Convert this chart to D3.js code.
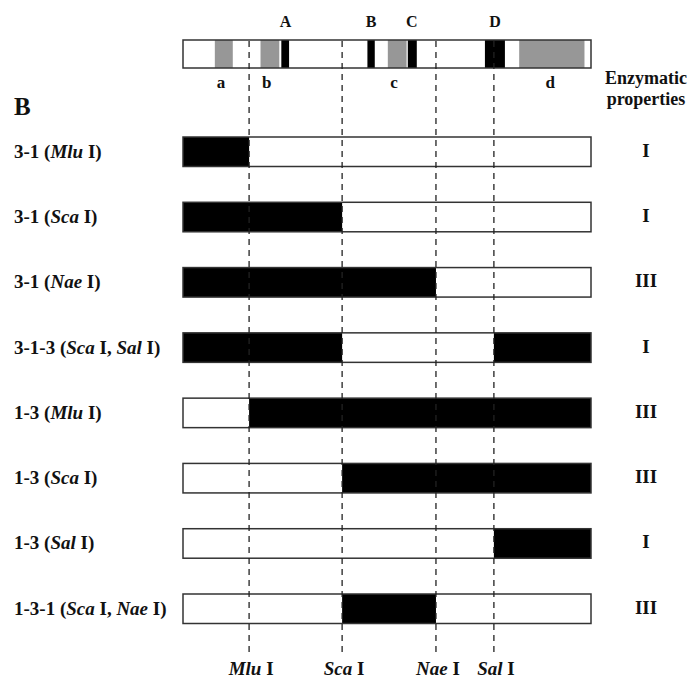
<!DOCTYPE html>
<html>
<head>
<meta charset="utf-8">
<script src="https://cdn.jsdelivr.net/npm/d3@7"></script>
<style>
  body { margin: 0; background: #fff; }
  text { font-family: "Liberation Serif", "Times New Roman", serif; font-weight: bold; fill: #111; }
</style>
</head>
<body>
<div id="chart"></div>
<script>
// restriction sites along the gene (relative position, 0-100)
var siteNames = ["Mlu", "Sca", "Nae", "Sal"];
var sitePos = [16.2, 39.0, 62.0, 76.2];

// gene map on top: grey regions a-d, black motifs A-D
var grayNames = ["a", "b", "c", "d"];
var grayStart = [7.8, 19.0, 50.2, 82.4];
var grayEnd = [12.2, 23.6, 54.8, 98.4];
var grayLabelPos = [9.3, 20.5, 51.7, 90.0];

var motifNames = ["A", "B", "C", "D"];
var motifStart = [24.1, 45.2, 55.1, 74.0];
var motifEnd = [26.0, 47.0, 57.3, 78.9];
var motifLabelPos = [25.1, 46.1, 56.1, 76.5];

// chimeric constructs (*...* = italic), black parts given by site names
var constructs = ["3-1 (*Mlu* I)", "3-1 (*Sca* I)", "3-1 (*Nae* I)", "3-1-3 (*Sca* I, *Sal* I)",
  "1-3 (*Mlu* I)", "1-3 (*Sca* I)", "1-3 (*Sal* I)", "1-3-1 (*Sca* I, *Nae* I)"];
var blackParts = [
  [["start", "Mlu"]],
  [["start", "Sca"]],
  [["start", "Nae"]],
  [["start", "Sca"], ["Sal", "end"]],
  [["Mlu", "end"]],
  [["Sca", "end"]],
  [["Sal", "end"]],
  [["Sca", "Nae"]]
];
var properties = ["I", "I", "III", "I", "III", "III", "I", "III"];

var width = 694, height = 678;

var svg = d3.select("#chart")
  .append("svg")
  .attr("width", width)
  .attr("height", height);

var x = d3.scaleLinear().domain([0, 100]).range([183, 591]);
var y = d3.scalePoint().domain(constructs).range([137, 594]);
var barH = 29.5;

function cut(name) {
  if (name == "start") return 0;
  if (name == "end") return 100;
  return sitePos[siteNames.indexOf(name)];
}

// label with italic parts
function richText(sel, str) {
  str.split("*").forEach(function(part, i) {
    sel.append("tspan")
      .style("font-style", i % 2 ? "italic" : "normal")
      .text(part);
  });
}

/****** TOP GENE MAP ******/
var map = svg.append("g");
map.append("rect")
  .attr("x", x(0)).attr("y", 40)
  .attr("width", x(100) - x(0)).attr("height", 28)
  .attr("fill", "#fff");

map.selectAll(".gray")
  .data(grayNames)
  .enter()
  .append("rect")
    .attr("x", function(d, i) { return x(grayStart[i]); })
    .attr("width", function(d, i) { return x(grayEnd[i]) - x(grayStart[i]); })
    .attr("y", 40).attr("height", 28)
    .attr("fill", "#979797");

map.selectAll(".motif")
  .data(motifNames)
  .enter()
  .append("rect")
    .attr("x", function(d, i) { return x(motifStart[i]); })
    .attr("width", function(d, i) { return x(motifEnd[i]) - x(motifStart[i]); })
    .attr("y", 40).attr("height", 28)
    .attr("fill", "#000");

map.selectAll(".motifLabel")
  .data(motifNames)
  .enter()
  .append("text")
    .attr("x", function(d, i) { return x(motifLabelPos[i]); })
    .attr("y", 27)
    .attr("text-anchor", "middle")
    .style("font-size", "16px")
    .text(function(d) { return d; });

map.selectAll(".grayLabel")
  .data(grayNames)
  .enter()
  .append("text")
    .attr("x", function(d, i) { return x(grayLabelPos[i]); })
    .attr("y", 88)
    .attr("text-anchor", "middle")
    .style("font-size", "17px")
    .text(function(d) { return d; });

/****** CONSTRUCT BARS ******/
var rows = svg.selectAll(".row")
  .data(constructs)
  .enter()
  .append("g")
    .attr("transform", function(d) { return "translate(0," + y(d) + ")"; });

rows.append("rect")
  .attr("x", x(0)).attr("width", x(100) - x(0))
  .attr("height", barH)
  .attr("fill", "#fff");

rows.each(function(d, i) {
  d3.select(this).selectAll(".blk")
    .data(blackParts[i])
    .enter()
    .append("rect")
      .attr("x", function(p) { return x(cut(p[0])); })
      .attr("width", function(p) { return x(cut(p[1])) - x(cut(p[0])); })
      .attr("height", barH)
      .attr("fill", "#000");
});

/****** DASHED SITE LINES ******/
svg.selectAll(".site")
  .data(sitePos)
  .enter()
  .append("line")
    .attr("x1", function(d) { return x(d); })
    .attr("x2", function(d) { return x(d); })
    .attr("y1", 41).attr("y2", 653)
    .attr("stroke", "#222")
    .attr("stroke-width", 1.3)
    .attr("stroke-dasharray", "6,5");

// outlines on top
map.append("rect")
  .attr("x", x(0)).attr("y", 40)
  .attr("width", x(100) - x(0)).attr("height", 28)
  .attr("fill", "none").attr("stroke", "#333").attr("stroke-width", 1.5);

rows.append("rect")
  .attr("x", x(0)).attr("width", x(100) - x(0))
  .attr("height", barH)
  .attr("fill", "none").attr("stroke", "#333").attr("stroke-width", 1.5);

// row labels
rows.append("text")
  .attr("x", 14)
  .attr("y", barH / 2 + 6)
  .style("font-size", "19px")
  .each(function(d) { richText(d3.select(this), d); });

// enzymatic property
rows.append("text")
  .attr("x", 646)
  .attr("y", barH / 2 + 5)
  .attr("text-anchor", "middle")
  .style("font-size", "19px")
  .text(function(d, i) { return properties[i]; });

/****** SITE NAMES ******/
svg.selectAll(".siteLabel")
  .data(siteNames)
  .enter()
  .append("text")
    .attr("x", function(d, i) { return x(sitePos[i]) + 2; })
    .attr("y", 675)
    .attr("text-anchor", "middle")
    .style("font-size", "19px")
    .each(function(d) { richText(d3.select(this), "*" + d + "* I"); });

/****** PANEL LABEL & HEADER ******/
svg.append("text")
  .attr("x", 14).attr("y", 115)
  .style("font-size", "25px")
  .text("B");

svg.append("text")
  .attr("x", 646).attr("y", 84)
  .attr("text-anchor", "middle")
  .style("font-size", "18px")
  .text("Enzymatic");

svg.append("text")
  .attr("x", 646).attr("y", 105)
  .attr("text-anchor", "middle")
  .style("font-size", "18px")
  .text("properties");
</script>
</body>
</html>
